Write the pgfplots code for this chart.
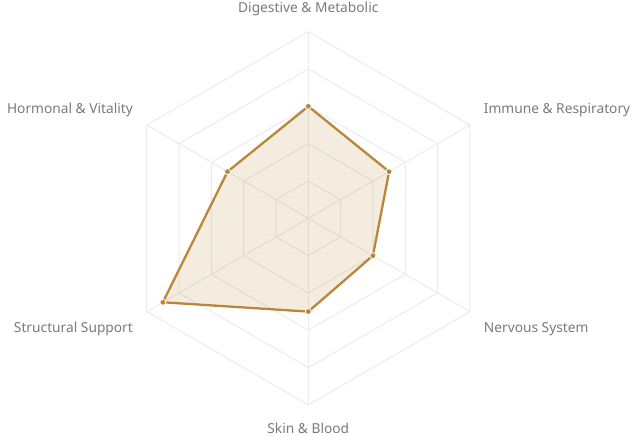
\documentclass[border=0pt]{standalone}
\usepackage{pgfplots}
\pgfplotsset{compat=1.18}
\usepackage{pgfplotstable}
\usepackage{fontspec}
\setmainfont{Noto Sans}
\definecolor{linecol}{HTML}{B8873B}
\definecolor{gridcol}{HTML}{EBEBEB}
\definecolor{labcol}{HTML}{7A7A7A}

% angle (deg), value (0-100)
\pgfplotstableread{
a v
90 60
30 50
-30 40
-90 50
-150 90
150 50
90 60
}\scores

\begin{document}
\begin{tikzpicture}
\begin{axis}[
  x=1.866bp, y=1.866bp,
  xmin=-165.22, xmax=177.76,
  ymin=-117.20, ymax=116.99,
  enlargelimits=false,
  hide axis,
  clip=false,
  scale only axis,
]
\path (rel axis cs:0,0) rectangle (rel axis cs:1,1);
% hexagonal grid
\pgfplotsinvokeforeach{20,40,60,80,100}{
  \addplot[gridcol, line width=1bp, data cs=polar, mark=none]
    coordinates {(90,#1) (30,#1) (-30,#1) (-90,#1) (-150,#1) (150,#1) (90,#1)};
}
\pgfplotsinvokeforeach{90,30,-30,-90,-150,150}{
  \addplot[gridcol, line width=1bp, data cs=polar, mark=none]
    coordinates {(#1,0) (#1,100)};
}
% data polygon
\addplot[draw=none, fill=linecol, fill opacity=0.16, data cs=polar, mark=none]
  table[x=a, y=v] {\scores} -- cycle;
\addplot[draw=linecol, line width=2.3bp, line join=round, data cs=polar, mark=none]
  table[x=a, y=v] {\scores};
\addplot[only marks, data cs=polar, mark=*, mark size=3bp,
  mark options={fill=linecol, draw=white, line width=0.8bp}]
  table[x=a, y=v] {\scores};
% category labels
\begin{scope}[every node/.style={font=\fontsize{13.8}{16}\selectfont, text=labcol, inner sep=0pt}]
\node[anchor=base] at (axis cs:0,110.4) {Digestive \& Metabolic};
\node[anchor=base west] at (axis cs:94.0,56.2) {Immune \& Respiratory};
\node[anchor=base west] at (axis cs:94.0,-61.3) {Nervous System};
\node[anchor=base] at (axis cs:0,-115.1) {Skin \& Blood};
\node[anchor=base east] at (axis cs:-93.9,-61.3) {Structural Support};
\node[anchor=base east] at (axis cs:-93.9,56.2) {Hormonal \& Vitality};
\end{scope}
\end{axis}
\end{tikzpicture}
\end{document}
